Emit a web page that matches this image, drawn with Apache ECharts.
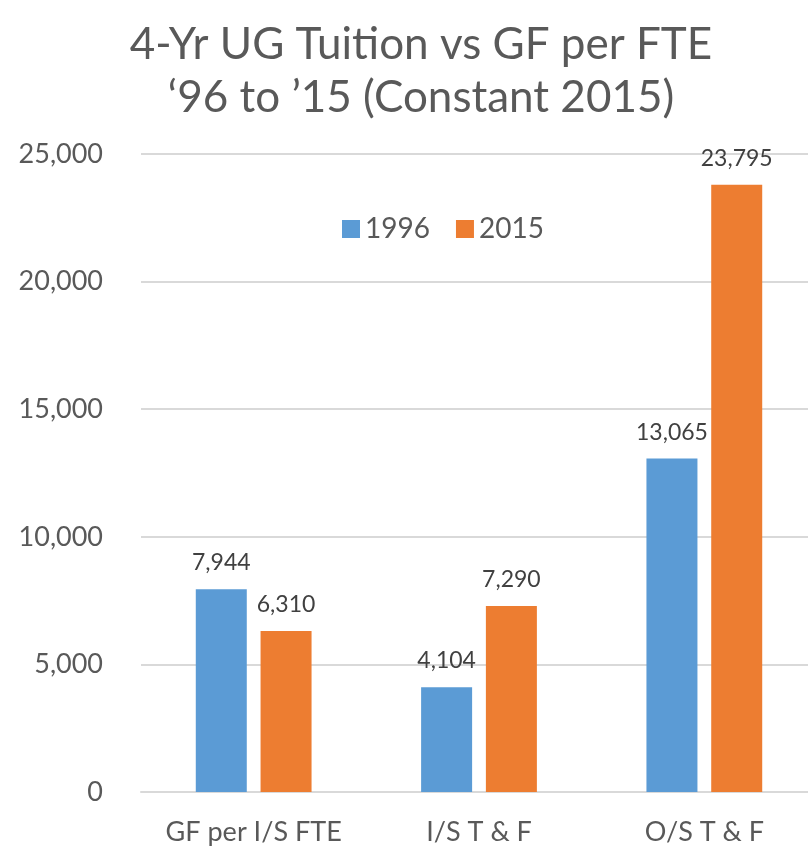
<!DOCTYPE html>
<html>
<head>
<meta charset="utf-8">
<script src="https://cdn.jsdelivr.net/npm/echarts@6/dist/echarts.min.js"></script>
<style>
  html, body { margin: 0; padding: 0; background: #ffffff; overflow: hidden; }
  /* plot area runs a few pixels past the right edge of the window */
  #chart { width: 818px; height: 849px; }
</style>
</head>
<body>
<div id="chart"></div>
<script>
// Chart heading, two lines
const titleLines = ['4-Yr UG Tuition vs GF per FTE', '\u201896 to \u201915 (Constant 2015)'];
// Category labels along the x axis
const categories = ['GF per I/S FTE', 'I/S T & F', 'O/S T & F'];
// Series values (constant 2015 dollars)
const values1996 = [7944, 4104, 13065];
const values2015 = [6310, 7290, 23795];
// Y axis range and step
const yMin = 0;
const yMax = 25000;
const yStep = 5000;

const FONT = 'Lato, "Open Sans", sans-serif';
const chart = echarts.init(document.getElementById('chart'), null, { renderer: 'canvas' });

const labelStyle = {
  show: true,
  position: 'top',
  distance: 15,
  color: '#404040',
  fontSize: 23,
  fontFamily: FONT,
  formatter: p => p.value.toLocaleString('en-US')
};

chart.setOption({
  animation: false,
  backgroundColor: '#ffffff',
  graphic: [
    {
      type: 'text',
      x: 421,
      y: 18,
      style: {
        text: titleLines.join('\n'),
        fill: '#595959',
        font: '44px ' + FONT,
        lineHeight: 53,
        textAlign: 'center',
        textVerticalAlign: 'top'
      }
    }
  ],
  legend: {
    data: ['1996', '2015'],
    left: 337,
    top: 210,
    itemWidth: 18,
    itemHeight: 18,
    itemGap: 26,
    icon: 'rect',
    textStyle: { color: '#595959', fontSize: 28, fontFamily: FONT }
  },
  grid: {
    left: 141,
    top: 154,
    width: 676,
    height: 638,
    containLabel: false
  },
  xAxis: {
    type: 'category',
    data: categories,
    axisLine: { show: true, lineStyle: { color: '#D9D9D9', width: 2 } },
    axisTick: { show: false },
    axisLabel: { color: '#595959', fontSize: 27, fontFamily: FONT, margin: 27, interval: 0 }
  },
  yAxis: {
    type: 'value',
    min: yMin,
    max: yMax,
    interval: yStep,
    axisLine: { show: false },
    axisTick: { show: false },
    splitLine: { lineStyle: { color: '#D9D9D9', width: 2 } },
    axisLabel: {
      color: '#595959',
      fontSize: 27,
      fontFamily: FONT,
      margin: 38,
      formatter: v => v.toLocaleString('en-US')
    }
  },
  series: [
    {
      name: '1996',
      type: 'bar',
      data: values1996,
      barWidth: 51,
      barGap: '27%',
      itemStyle: { color: '#5B9BD5' },
      label: labelStyle
    },
    {
      name: '2015',
      type: 'bar',
      data: values2015,
      barWidth: 51,
      barGap: '27%',
      itemStyle: { color: '#ED7D31' },
      label: labelStyle
    }
  ]
});
</script>
</body>
</html>
